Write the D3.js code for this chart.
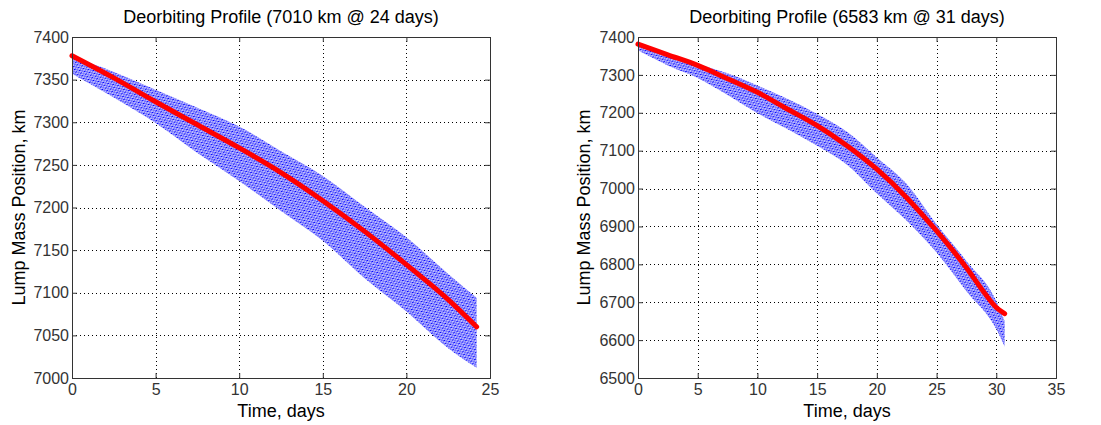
<!DOCTYPE html>
<meta charset="utf-8">
<head>
  <title>Deorbiting Profile</title>
  <script type="text/javascript" src="https://cdn.jsdelivr.net/npm/d3@7"></script>
  <style>
    body {margin: 0; background: #fff;}
    text {font-family: "Liberation Sans", Arial, sans-serif;}
    .tick text {fill: #333;}
  </style>
</head>
<body>
<div id="chart"></div>
<script>

// ---- data ----
// left panel (7010 km @ 24 days)
var leftTime    = [0, 2.5, 5, 7.5, 10, 12.5, 15, 17.5, 20, 22.5, 24.2];
var leftRed     = [7378, 7352, 7324, 7297, 7270, 7241, 7208, 7172, 7133, 7092, 7060];
var leftUpper   = [7377, 7359, 7338, 7317, 7295, 7266, 7237, 7201, 7165, 7122, 7094];
var leftLower   = [7357, 7329, 7299, 7264, 7231, 7196, 7161, 7117, 7078, 7035, 7012];

// right panel (6583 km @ 31 days)
var rightTime   = [0, 2.5, 5, 7.5, 10, 12.5, 15, 17.5, 20, 22.5, 25, 27.5, 29, 30, 30.7];
var rightRed    = [7381, 7353, 7325, 7290, 7254, 7210, 7166, 7113, 7051, 6976, 6888, 6791, 6725, 6686, 6670];
var rightBandT  = [0, 2.5, 5, 7.5, 10, 12.5, 15, 17.5, 20, 22.5, 25, 27.5, 30, 30.7];
var rightUpper  = [7382, 7356, 7329, 7304, 7272, 7237, 7197, 7150, 7082, 7012, 6906, 6809, 6703, 6650];
var rightLower  = [7365, 7325, 7292, 7247, 7199, 7157, 7113, 7063, 6987, 6915, 6831, 6729, 6629, 6583];

var leftXTicks  = [0, 5, 10, 15, 20, 25];
var leftYTicks  = [7000, 7050, 7100, 7150, 7200, 7250, 7300, 7350, 7400];
var rightXTicks = [0, 5, 10, 15, 20, 25, 30, 35];
var rightYTicks = [6500, 6600, 6700, 6800, 6900, 7000, 7100, 7200, 7300, 7400];

var W = 1101, H = 425;

var svg = d3.select("#chart").append("svg")
    .attr("width", W)
    .attr("height", H);

// dotted blue texture for the oscillating band
var defs = svg.append("defs");
var pat = defs.append("pattern")
    .attr("id", "bandPattern")
    .attr("patternUnits", "userSpaceOnUse")
    .attr("width", 4)
    .attr("height", 3)
    .attr("patternTransform", "rotate(-25)");
pat.append("rect").attr("width", 4).attr("height", 3).attr("fill", "#bcbcff");
pat.append("rect").attr("x", 0).attr("y", 0).attr("width", 2).attr("height", 1).attr("fill", "#0000ff");
pat.append("rect").attr("x", 2).attr("y", 1.5).attr("width", 2).attr("height", 1).attr("fill", "#2a2aff");

function drawPanel(opts) {
    var g = svg.append("g").attr("transform", "translate(" + opts.left + "," + opts.top + ")");
    var w = opts.width, h = opts.height;

    var x = d3.scaleLinear().domain(opts.xDomain).range([0, w]);
    var y = d3.scaleLinear().domain(opts.yDomain).range([h, 0]);

    // dotted grid
    g.append("g").selectAll("line")
        .data(opts.xTicks.slice(1, -1))
        .enter().append("line")
        .attr("x1", function(d){ return Math.round(x(d)) + 0.5; })
        .attr("x2", function(d){ return Math.round(x(d)) + 0.5; })
        .attr("y1", 0).attr("y2", h)
        .attr("stroke", "#000").attr("stroke-dasharray", "1,3");
    g.append("g").selectAll("line")
        .data(opts.yTicks.slice(1, -1))
        .enter().append("line")
        .attr("y1", function(d){ return Math.round(y(d)) + 0.5; })
        .attr("y2", function(d){ return Math.round(y(d)) + 0.5; })
        .attr("x1", 0).attr("x2", w)
        .attr("stroke", "#000").attr("stroke-dasharray", "1,3");

    // band
    var band = opts.bandT.map(function(t, i){ return {t: t, hi: opts.upper[i], lo: opts.lower[i]}; });
    var area = d3.area()
        .x(function(d){ return x(d.t); })
        .y0(function(d){ return y(d.lo); })
        .y1(function(d){ return y(d.hi); })
        .curve(d3.curveMonotoneX);
    g.append("path")
        .datum(band)
        .attr("d", area)
        .attr("fill", "url(#bandPattern)");

    // red mean line
    var red = opts.time.map(function(t, i){ return [t, opts.red[i]]; });
    var line = d3.line()
        .x(function(d){ return x(d[0]); })
        .y(function(d){ return y(d[1]); })
        .curve(d3.curveMonotoneX);
    g.append("path")
        .datum(red)
        .attr("d", line)
        .attr("fill", "none")
        .attr("stroke", "#ff0000")
        .attr("stroke-width", 5)
        .attr("stroke-linecap", "round");

    // axes, ticks inside, box on
    var xAxis = g.append("g").attr("transform", "translate(0," + h + ")")
        .call(d3.axisBottom(x).tickValues(opts.xTicks).tickSize(-5).tickPadding(6).tickFormat(d3.format("d")));
    var xTop = g.append("g")
        .call(d3.axisTop(x).tickValues(opts.xTicks).tickSize(-5).tickFormat(""));
    var yAxis = g.append("g")
        .call(d3.axisLeft(y).tickValues(opts.yTicks).tickSize(-5).tickPadding(3).tickFormat(d3.format("d")));
    var yRight = g.append("g").attr("transform", "translate(" + w + ",0)")
        .call(d3.axisRight(y).tickValues(opts.yTicks).tickSize(-5).tickFormat(""));
    [xAxis, xTop, yAxis, yRight].forEach(function(a){
        a.select(".domain").attr("stroke", "#333");
        a.selectAll(".tick line").attr("stroke", "#333");
        a.selectAll(".tick text").style("font-size", "16px");
    });

    // title and labels
    g.append("text")
        .attr("x", w / 2).attr("y", -14)
        .attr("text-anchor", "middle")
        .style("font-size", "18px")
        .text(opts.title);
    g.append("text")
        .attr("x", w / 2).attr("y", h + 39)
        .attr("text-anchor", "middle")
        .style("font-size", "18px")
        .text("Time, days");
    g.append("text")
        .attr("transform", "translate(" + opts.yLabelX + "," + (h / 2) + ") rotate(-90)")
        .attr("text-anchor", "middle")
        .style("font-size", "18px")
        .text("Lump Mass Position, km");
}

drawPanel({
    left: 72, top: 37, width: 418, height: 341,
    xDomain: [0, 25], yDomain: [7000, 7400],
    xTicks: leftXTicks, yTicks: leftYTicks,
    time: leftTime, red: leftRed,
    bandT: leftTime, upper: leftUpper, lower: leftLower,
    title: "Deorbiting Profile (7010 km @ 24 days)",
    yLabelX: -47
});

drawPanel({
    left: 638, top: 37, width: 418, height: 341,
    xDomain: [0, 35], yDomain: [6500, 7400],
    xTicks: rightXTicks, yTicks: rightYTicks,
    time: rightTime, red: rightRed,
    bandT: rightBandT, upper: rightUpper, lower: rightLower,
    title: "Deorbiting Profile (6583 km @ 31 days)",
    yLabelX: -48
});

</script>
</body>
</html>
